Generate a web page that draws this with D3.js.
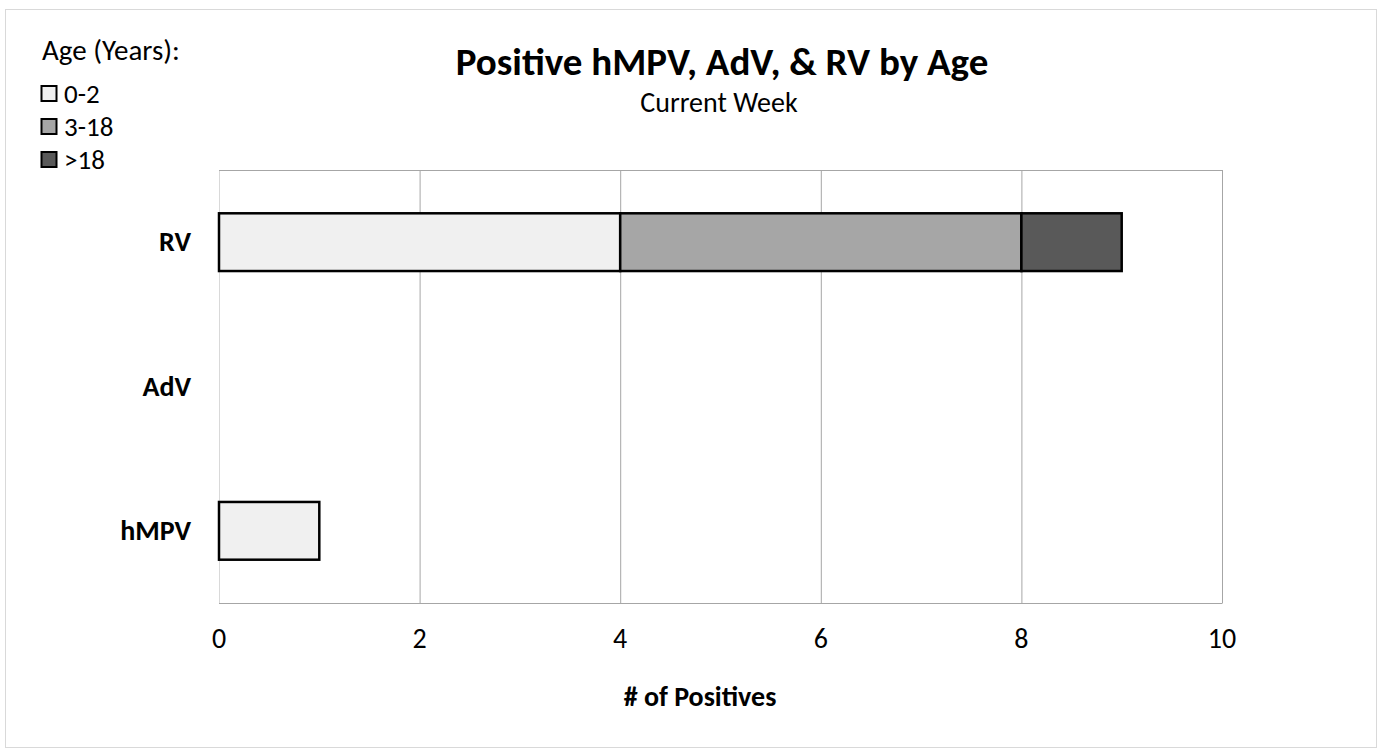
<!DOCTYPE html>
<html><head><meta charset="utf-8">
<script src="https://cdn.jsdelivr.net/npm/d3@7"></script>
<style>body{margin:0;background:#fff;}svg{display:block;font-family:Calibri,Carlito,"Open Sans",sans-serif;}</style>
</head><body>
<svg id="c" width="1380" height="750"></svg>
<script>
const categories = ["RV", "AdV", "hMPV"];
const ageGroups = ["0-2", "3-18", ">18"];
const age0to2 = [4, 0, 1];
const age3to18 = [4, 0, 0];
const ageOver18 = [1, 0, 0];
const xTicks = [0, 2, 4, 6, 8, 10];
const colors = ["#f0f0f0", "#a6a6a6", "#595959"];

const svg = d3.select("#c");
svg.append("rect").attr("x",5.5).attr("y",9.5).attr("width",1371).attr("height",738)
  .attr("fill","#fff").attr("stroke","#d9d9d9").attr("stroke-width",1);

const L=219, R=1222, T=170, B=603;
const x = d3.scaleLinear().domain([0,10]).range([L,R]);
const y = d3.scaleBand().domain(categories).range([T,B]).paddingInner(0.6).paddingOuter(0.3);

// gridlines
svg.append("g").selectAll("line").data(xTicks).join("line")
  .attr("x1",d=>x(d)+0.5).attr("x2",d=>x(d)+0.5).attr("y1",T).attr("y2",B)
  .attr("stroke",d=>d===0?"#d9d9d9":"#a6a6a6").attr("stroke-width",1);
svg.append("line").attr("x1",L).attr("x2",R+0.5).attr("y1",T+0.5).attr("y2",T+0.5).attr("stroke","#a6a6a6");
svg.append("line").attr("x1",L).attr("x2",R+0.5).attr("y1",B+0.5).attr("y2",B+0.5).attr("stroke","#a6a6a6");

const data = categories.map((c,i)=>({cat:c,"0-2":age0to2[i],"3-18":age3to18[i],">18":ageOver18[i]}));
const stack = d3.stack().keys(ageGroups)(data);
stack.forEach((s,si)=>{
  svg.append("g").selectAll("rect").data(s.filter(d=>d[1]-d[0]>0)).join("rect")
    .attr("x",d=>x(d[0])).attr("width",d=>x(d[1])-x(d[0]))
    .attr("y",d=>y(d.data.cat)).attr("height",y.bandwidth())
    .attr("fill",colors[si]).attr("stroke","#000").attr("stroke-width",2.5);
});

// x tick labels
svg.append("g").selectAll("text").data(xTicks).join("text")
  .attr("x",d=>x(d)).attr("y",648).attr("text-anchor","middle")
  .attr("font-size",28).attr("fill","#000").text(d=>d);
// category labels
svg.append("g").selectAll("text").data(categories).join("text")
  .attr("x",191).attr("y",d=>y(d)+y.bandwidth()/2+9).attr("text-anchor","end")
  .attr("font-size",28).attr("font-weight","bold").attr("fill","#000").text(d=>d);

svg.append("text").attr("x",722).attr("y",75).attr("text-anchor","middle")
  .attr("font-size",39).attr("font-weight","bold").text("Positive hMPV, AdV, & RV by Age");
svg.append("text").attr("x",719).attr("y",112).attr("text-anchor","middle")
  .attr("font-size",28).text("Current Week");
svg.append("text").attr("x",700).attr("y",706).attr("text-anchor","middle")
  .attr("font-size",28).attr("font-weight","bold").text("# of Positives");

// legend
svg.append("text").attr("x",42).attr("y",60).attr("font-size",29).text("Age (Years):");
const lg = svg.append("g").selectAll("g").data(ageGroups).join("g")
  .attr("transform",(d,i)=>`translate(0,${93.5+i*33})`);
lg.append("rect").attr("x",41.5).attr("y",-7.5).attr("width",15).attr("height",15)
  .attr("fill",(d,i)=>colors[i]).attr("stroke","#000").attr("stroke-width",2);
lg.append("text").attr("x",64).attr("y",9).attr("font-size",27).text(d=>d);
</script>
</body></html>
